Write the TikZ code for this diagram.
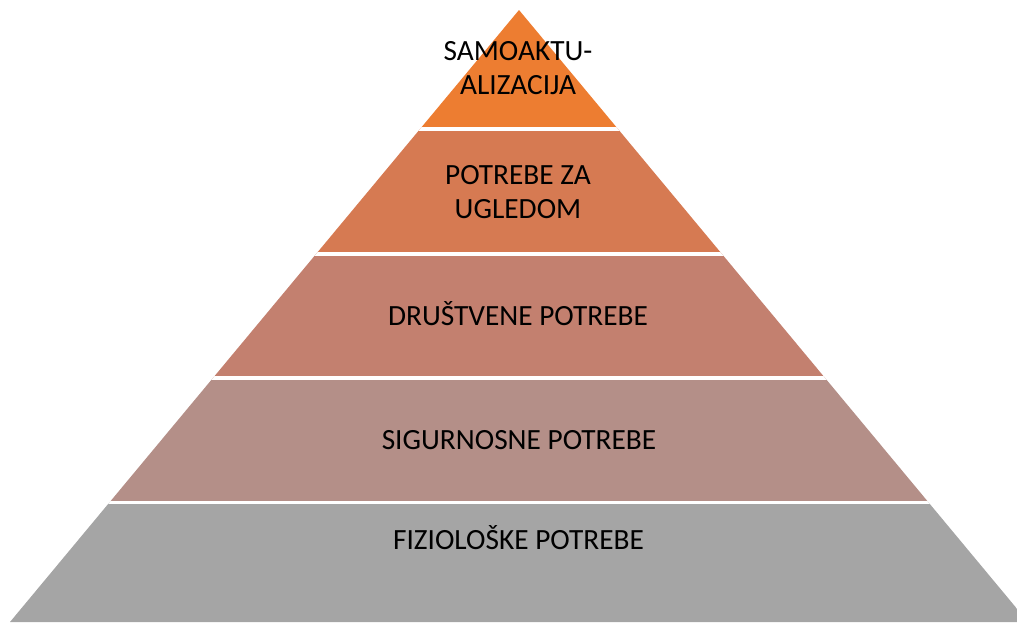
\documentclass[tikz,border=0pt]{standalone}
\usepackage{fontspec}
\setmainfont{Carlito}
\usepackage{tikz}
\definecolor{levelOne}{RGB}{237,125,49}
\definecolor{levelTwo}{RGB}{214,122,82}
\definecolor{levelThree}{RGB}{195,128,111}
\definecolor{levelFour}{RGB}{180,143,136}
\definecolor{levelFive}{RGB}{165,165,165}
\tikzset{layerText/.style={align=center,font=\fontsize{22}{25}\selectfont,inner sep=0pt}}

\begin{document}
\begin{tikzpicture}[x=0.75pt,y=-0.75pt]
    \useasboundingbox (0,0) rectangle (1017,622);
    \begin{scope}
      \clip (519,10) -- (10,622) -- (1028,622) -- cycle;
      \fill[levelOne] (0,0) rectangle (1040,129);
      \fill[levelTwo] (0,129) rectangle (1040,254);
      \fill[levelThree] (0,254) rectangle (1040,378);
      \fill[levelFour] (0,378) rectangle (1040,502);
      \fill[levelFive] (0,502) rectangle (1040,630);
      % white gaps between the levels
      \draw[white,line width=2.5pt] (0,129) -- (1040,129);
      \draw[white,line width=2.5pt] (0,254) -- (1040,254);
      \draw[white,line width=2.5pt] (0,378) -- (1040,378);
      \draw[white,line width=2.5pt] (0,502.5) -- (1040,502.5);
    \end{scope}
    \node[layerText,anchor=base] (selfActual) at (518,94) {SAMOAKTU-\\ALIZACIJA};
    \node[layerText,anchor=base] (esteemNeeds) at (518,218) {POTREBE ZA\\UGLEDOM};
    \node[layerText,anchor=base] (socialNeeds) at (518,325) {DRUŠTVENE POTREBE};
    \node[layerText,anchor=base] (safetyNeeds) at (519,449) {SIGURNOSNE POTREBE};
    \node[layerText,anchor=base] (bodyNeeds) at (518.5,549) {FIZIOLOŠKE POTREBE};
  \end{tikzpicture}
\end{document}
